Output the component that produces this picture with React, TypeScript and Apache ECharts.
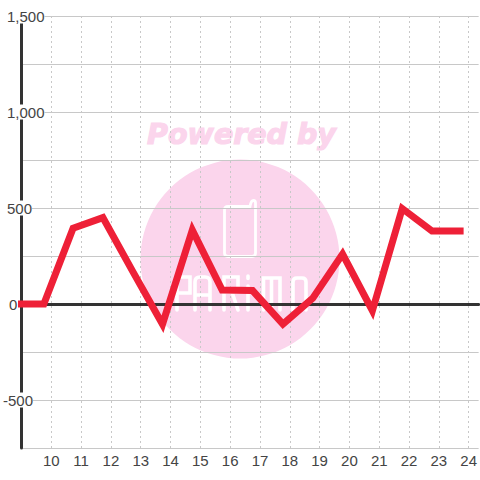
import React, { useEffect, useRef } from "react";
import * as echarts from "echarts";

const xValues = [8.87, 9.75, 10.73, 11.73, 12.73, 13.73, 14.73, 15.73, 16.75, 17.77, 18.77, 19.77, 20.77, 21.77, 22.77, 23.83];
const yValues = [0, 0, 395, 450, 170, -105, 385, 73, 70, -105, 30, 260, -35, 497, 380, 380];
const pink = "#fbd5ec";

echarts.graphic.registerShape(
  "phoneLogo",
  echarts.graphic.extendPath(
    "M228 206.5 H250 Q251 200.5 253.5 200.5 Q255.5 200.5 255.5 203 V253 Q255.5 256.5 252 256.5 H228 Q224.5 256.5 224.5 253 V210 Q224.5 206.5 228 206.5 Z",
    {}
  )
);
echarts.graphic.registerShape(
  "logoLetters",
  echarts.graphic.extendPath(
    "M177 310 V277 H190 V293 H177 " +
      "M195 310 V282 Q195 277 200 277 H205 Q210 277 210 282 V310 M195 295 H210 " +
      "M224 310 V277 H238 V292 H224 M232 292 L238 310 " +
      "M248 286 V310 M248 276 V278.5 " +
      "M263.5 310 V278 H280 V310 M271.5 278 V310 " +
      "M293 310 V282 Q293 278 297 278 H302 Q306 278 306 282 V310",
    {}
  )
);

export default function App() {
  const ref = useRef<HTMLDivElement>(null);
  useEffect(() => {
    const chart = echarts.init(ref.current!, undefined, { renderer: "svg" });
    const labelStyle = { color: "#444", fontFamily: "Liberation Sans", fontSize: 15 };
    chart.setOption({
      animation: false,
      backgroundColor: "#ffffff",
      grid: { left: 20.5, right: -0.5, top: 16, bottom: 32, containLabel: false },
      graphic: [
        { type: "circle", z: -10, shape: { cx: 240, cy: 259, r: 99.5 }, style: { fill: pink } },
        {
          type: "text", z: -10, x: 241.5, y: 134.5,
          style: {
            text: "Powered by", fill: pink, stroke: pink, lineWidth: 1.2,
            font: "italic bold 28.5px 'DejaVu Sans'", textAlign: "center", textVerticalAlign: "middle",
          },
        },
        { type: "phoneLogo", z: -9, style: { fill: "none", stroke: "#fff", lineWidth: 2.8 } },
        { type: "logoLetters", z: -9, style: { fill: "none", stroke: "#fff", lineWidth: 3.6, lineCap: "round" } },
      ],
      xAxis: [
        {
          type: "value", min: 9, max: 24.3333, interval: 1, position: "bottom",
          axisLine: { show: false, onZero: false }, axisTick: { show: false },
          axisLabel: { ...labelStyle, margin: 5, showMinLabel: false, showMaxLabel: false },
          splitLine: { show: true, showMaxLine: false, lineStyle: { color: "#c8c8c8", type: [2, 3], width: 1 } },
        },
        {
          type: "value", min: 9, max: 24.3333, interval: 1, position: "top",
          axisLine: { show: true, onZero: true, lineStyle: { color: "#333", width: 3 } },
          axisTick: { show: false }, axisLabel: { show: false }, splitLine: { show: false },
        },
      ],
      yAxis: {
        type: "value", min: -750, max: 1500, interval: 250,
        axisLine: { show: true, onZero: false, lineStyle: { color: "#333", width: 3 } },
        axisTick: { show: false },
        axisLabel: {
          ...labelStyle, margin: 18.5, align: "left", backgroundColor: "#fff",
          formatter: (v: number) => {
            if (v % 500 !== 0) return "";
            const s = v.toLocaleString("en-US");
            return v < 0 ? `{n|${s}}` : v === 0 ? `{z|${s}}` : `{p|${s}}`;
          },
          rich: {
            n: { ...labelStyle },
            z: { ...labelStyle, padding: [0, 0, 0, 6] },
            p: { ...labelStyle, padding: [0, 0, 0, 4] },
          },
        },
        splitLine: { show: true, lineStyle: { color: "#c8c8c8", width: 1 } },
      },
      series: [
        {
          type: "line", xAxisIndex: 0, clip: false, symbol: "none", z: 5,
          data: xValues.map((x, i) => [x, yValues[i]]),
          lineStyle: { color: "#ee2037", width: 7, cap: "butt", join: "miter", miterLimit: 4 },
        },
      ],
    });
    return () => chart.dispose();
  }, []);
  return <div ref={ref} style={{ position: "fixed", left: 0, top: 0, width: 480, height: 480 }} />;
}
